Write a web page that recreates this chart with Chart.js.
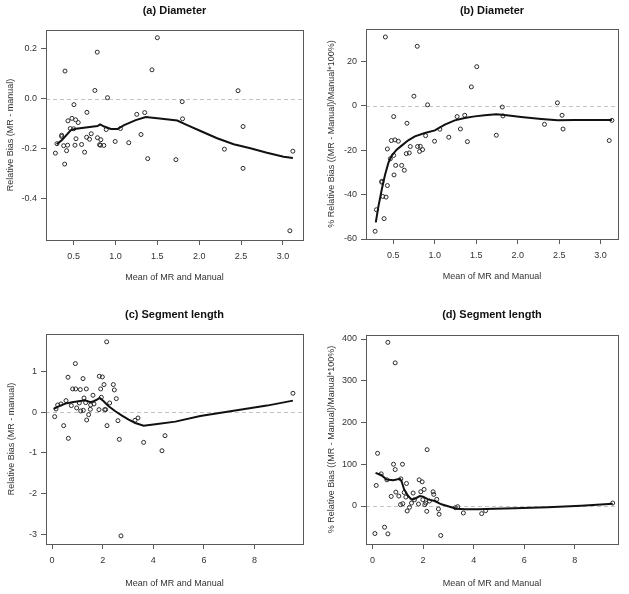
<!DOCTYPE html>
<html>
<head>
<meta charset="utf-8">
<script src="https://cdn.jsdelivr.net/npm/chart.js@4"></script>
<style>
  body { margin: 0; background: #fff; }
  #wrap { position: relative; width: 629px; height: 594px; }
  canvas { position: absolute; }
</style>
</head>
<body>
<div id="wrap">
  <canvas id="pa" width="314" height="297" style="left:0;top:0"></canvas>
  <canvas id="pb" width="314" height="297" style="left:315px;top:0"></canvas>
  <canvas id="pc" width="314" height="297" style="left:0;top:297px"></canvas>
  <canvas id="pd" width="314" height="297" style="left:315px;top:297px"></canvas>
</div>
<script>
// (a) Diameter, relative bias
var aX = [0.282, 0.301, 0.357, 0.357, 0.397, 0.381, 0.393, 0.416, 0.428, 0.432, 0.46, 0.48, 0.5, 0.504, 0.516, 0.524, 0.528, 0.555, 0.595, 0.631, 0.659, 0.655, 0.69, 0.71, 0.754, 0.782, 0.785, 0.809, 0.825, 0.821, 0.861, 0.889, 0.905, 0.996, 1.059, 1.159, 1.254, 1.305, 1.349, 1.385, 1.436, 1.5, 1.722, 1.797, 1.801, 2.301, 2.464, 2.524, 2.524, 3.083, 3.119];
var aY = [-0.219, -0.181, -0.147, -0.152, 0.111, -0.189, -0.263, -0.209, -0.187, -0.089, -0.12, -0.079, -0.121, -0.024, -0.187, -0.085, -0.161, -0.096, -0.184, -0.215, -0.055, -0.155, -0.163, -0.141, 0.033, 0.187, -0.157, -0.185, -0.165, -0.187, -0.188, -0.124, 0.004, -0.172, -0.12, -0.177, -0.063, -0.144, -0.056, -0.241, 0.116, 0.245, -0.245, -0.012, -0.081, -0.203, 0.032, -0.112, -0.28, -0.531, -0.211];
var aFitX = [0.298, 0.361, 0.468, 0.528, 0.647, 0.785, 0.817, 0.865, 0.944, 1.024, 1.103, 1.242, 1.361, 1.5, 1.738, 1.857, 2.016, 2.214, 2.412, 2.611, 2.809, 3.008, 3.119];
var aFitY = [-0.183, -0.166, -0.126, -0.121, -0.116, -0.11, -0.103, -0.112, -0.122, -0.122, -0.106, -0.086, -0.074, -0.079, -0.088, -0.106, -0.13, -0.159, -0.183, -0.199, -0.217, -0.233, -0.238];

// (b) Diameter, % relative bias
var bX = [0.28, 0.296, 0.404, 0.36, 0.36, 0.372, 0.388, 0.412, 0.428, 0.428, 0.464, 0.476, 0.504, 0.504, 0.508, 0.52, 0.528, 0.56, 0.6, 0.632, 0.656, 0.664, 0.692, 0.704, 0.748, 0.788, 0.792, 0.816, 0.825, 0.853, 0.889, 0.913, 0.997, 1.061, 1.169, 1.269, 1.309, 1.361, 1.393, 1.441, 1.506, 1.742, 1.814, 1.822, 2.323, 2.479, 2.535, 2.547, 3.104, 3.136];
var bY = [-56.5, -46.8, 31.1, -34.4, -34, -40.8, -50.8, -41.1, -35.9, -19.4, -23.8, -15.6, -4.8, -22.3, -31.1, -15.3, -26.8, -15.9, -26.8, -29, -21.5, -7.8, -21.2, -18.3, 4.4, 26.9, -18.3, -20.5, -18.2, -19.7, -13.4, 0.5, -15.9, -10.5, -14.1, -4.8, -10.4, -4.2, -16.1, 8.6, 17.7, -13.2, -0.5, -4.5, -8.3, 1.4, -4.2, -10.4, -15.6, -6.5];
var bFitX = [0.288, 0.32, 0.36, 0.4, 0.44, 0.48, 0.54, 0.6, 0.68, 0.76, 0.88, 1.0, 1.121, 1.241, 1.361, 1.482, 1.602, 1.742, 1.842, 2.042, 2.283, 2.483, 2.683, 3.136];
var bFitY = [-52.5, -45.3, -37.7, -31, -25.7, -22.4, -19.7, -17.9, -15.5, -13.7, -12.2, -11, -8.4, -6.5, -5.4, -4.7, -4.2, -3.8, -4.1, -5, -5.9, -6.5, -6.3, -6.3];

// (c) Segment length, relative bias
var cX = [0.105, 0.158, 0.224, 0.355, 0.461, 0.553, 0.632, 0.645, 0.763, 0.816, 0.921, 0.934, 0.974, 1.079, 1.118, 1.132, 1.224, 1.237, 1.263, 1.329, 1.355, 1.368, 1.447, 1.513, 1.526, 1.618, 1.658, 1.855, 1.868, 1.921, 1.947, 1.987, 2.053, 2.079, 2.118, 2.158, 2.171, 2.276, 2.421, 2.461, 2.539, 2.605, 2.658, 2.724, 3.276, 3.395, 3.618, 4.342, 4.461, 9.513];
var cY = [-0.107, 0.082, 0.181, 0.206, -0.329, 0.288, 0.864, -0.642, 0.165, 0.576, 1.2, 0.576, 0.107, 0.23, 0.56, 0.033, 0.831, 0.049, 0.354, 0.239, 0.576, -0.189, -0.058, 0.074, 0.181, 0.42, 0.206, 0.066, 0.889, 0.576, 0.37, 0.872, 0.683, 0.066, 0.066, 1.737, -0.329, 0.23, 0.683, 0.551, 0.337, -0.206, -0.667, -3.045, -0.198, -0.14, -0.741, -0.947, -0.576, 0.469];
var cFitX = [0.066, 0.263, 0.526, 0.789, 1.053, 1.316, 1.513, 1.645, 1.776, 1.882, 2.039, 2.237, 2.5, 2.763, 3.026, 3.289, 3.618, 4.079, 4.868, 5.855, 7.171, 8.487, 9.513];
var cFitY = [0.082, 0.148, 0.214, 0.247, 0.272, 0.296, 0.247, 0.272, 0.313, 0.354, 0.272, 0.148, 0.025, -0.082, -0.181, -0.263, -0.329, -0.296, -0.23, -0.091, 0.041, 0.165, 0.288];

// (d) Segment length, % relative bias
var dX = [0.092, 0.145, 0.197, 0.342, 0.474, 0.566, 0.605, 0.605, 0.737, 0.829, 0.895, 0.895, 0.921, 1.039, 1.118, 1.105, 1.184, 1.197, 1.25, 1.316, 1.342, 1.368, 1.461, 1.539, 1.605, 1.658, 1.816, 1.842, 1.908, 1.961, 1.987, 2.039, 2.066, 2.105, 2.145, 2.158, 2.25, 2.395, 2.421, 2.539, 2.605, 2.632, 2.697, 3.276, 3.368, 3.592, 4.316, 4.474, 9.5];
var dY = [-65.9, 49.2, 126.2, 77, -50.8, 62.7, 392, -66.7, 23, 100, 342.9, 87.3, 33.3, 23.8, 65, 3.2, 100, 5.6, 32.5, 21.4, 54, -11.9, -3.2, 7.1, 31, 15.1, 4.8, 62.7, 34.1, 57.9, 15.1, 39.7, 3.2, 7.1, -12.7, 134.9, 11.9, 34.1, 27.8, 15.9, -7.1, -19.8, -70.6, -4, -1.6, -16.7, -18.3, -11.1, 7.1];
var dFitX = [0.118, 0.355, 0.553, 0.816, 1.079, 1.145, 1.25, 1.408, 1.539, 1.671, 1.868, 2.0, 2.197, 2.461, 2.724, 3.053, 3.316, 3.645, 4.171, 4.829, 5.618, 6.934, 8.25, 9.5];
var dFitY = [79.4, 73.8, 63.5, 61.9, 65.1, 59.5, 39.7, 23.8, 15.9, 17.5, 23.8, 22.2, 15.9, 11.9, 4, -1.6, -6.3, -7.9, -7.9, -6.3, -5.6, -3.2, 0.8, 5.6];

// tick labels
var diamXTicks = [0.5, 1.0, 1.5, 2.0, 2.5, 3.0];
var segXTicks = [0, 2, 4, 6, 8];
var aYTicks = [-0.4, -0.2, 0.0, 0.2];
var bYTicks = [-60, -40, -20, 0, 20];
var cYTicks = [-3, -2, -1, 0, 1];
var dYTicks = [0, 100, 200, 300, 400];
var zeroRef = 0;

var xLabel = 'Mean of MR and Manual';
var relLabel = 'Relative Bias (MR - manual)';
var pctLabel = '% Relative Bias ((MR - Manual)/Manual*100%)';

Chart.defaults.font.family = '"Liberation Sans", Arial, sans-serif';
Chart.defaults.animation = false;

var frame = {
  id: 'frame',
  beforeDatasetsDraw: function(chart) {
    var a = chart.chartArea, ctx = chart.ctx;
    var y0 = Math.round(chart.scales.y.getPixelForValue(zeroRef)) + 0.5;
    ctx.save();
    ctx.strokeStyle = '#c4c4c4';
    ctx.lineWidth = 1;
    ctx.setLineDash([4, 3]);
    ctx.beginPath();
    ctx.moveTo(a.left, y0);
    ctx.lineTo(a.right, y0);
    ctx.stroke();
    ctx.restore();
  },
  afterDraw: function(chart) {
    var a = chart.chartArea, ctx = chart.ctx;
    ctx.save();
    ctx.strokeStyle = '#5a5a5a';
    ctx.lineWidth = 1;
    ctx.strokeRect(Math.round(a.left) + 0.5, Math.round(a.top) + 0.5,
      Math.round(a.right - a.left), Math.round(a.bottom - a.top));
    ctx.restore();
  }
};

function pts(xs, ys) {
  return xs.map(function(x, i) { return {x: x, y: ys[i]}; });
}

function panel(id, p) {
  new Chart(id, {
    type: 'scatter',
    data: {
      datasets: [{
        data: pts(p.fitX, p.fitY),
        showLine: true,
        borderColor: '#111',
        borderWidth: 2,
        pointRadius: 0,
        tension: 0
      }, {
        data: pts(p.x, p.y),
        pointRadius: 2,
        pointBorderWidth: 1,
        pointBorderColor: '#2a2a2a',
        pointBackgroundColor: 'rgba(0,0,0,0)'
      }]
    },
    options: {
      responsive: false,
      layout: { padding: { right: 11 }, autoPadding: false },
      plugins: {
        legend: { display: false },
        tooltip: { enabled: false },
        title: {
          display: true,
          text: p.title,
          fullSize: false,
          color: '#111',
          font: { size: 11, weight: 'bold' },
          padding: { top: p.titleTop, bottom: p.titleBottom }
        }
      },
      scales: {
        x: {
          type: 'linear',
          min: p.xMin, max: p.xMax,
          afterBuildTicks: function(s) { s.ticks = p.xTicks.map(function(v) { return {value: v}; }); },
          afterFit: function(s) { s.height = p.xHeight; },
          border: { display: false },
          grid: { drawOnChartArea: false, drawTicks: true, tickLength: 5, color: '#5a5a5a' },
          ticks: { color: '#333', font: { size: 9 }, padding: 6, maxRotation: 0, autoSkip: false,
                   callback: function(v) { return p.xFmt(v); } },
          title: { display: true, text: xLabel, color: '#333', font: { size: 9 },
                   padding: { top: 0, bottom: p.xTitlePad } }
        },
        y: {
          type: 'linear',
          min: p.yMin, max: p.yMax,
          afterBuildTicks: function(s) { s.ticks = p.yTicks.map(function(v) { return {value: v}; }); },
          afterFit: function(s) { s.width = p.yWidth; },
          border: { display: false },
          grid: { drawOnChartArea: false, drawTicks: true, tickLength: 5, color: '#5a5a5a' },
          ticks: { color: '#333', font: { size: 9 }, padding: 4, autoSkip: false,
                   callback: function(v) { return p.yFmt(v); } },
          title: { display: true, text: p.yLabel, color: '#333', font: { size: 9 },
                   padding: { top: p.yTitlePad, bottom: 0 } }
        }
      }
    },
    plugins: [frame]
  });
}

function one(v) { return v.toFixed(1); }
function whole(v) { return String(v); }

panel('pa', {
  title: '(a) Diameter', titleTop: 4.4, titleBottom: 12.4,
  x: aX, y: aY, fitX: aFitX, fitY: aFitY,
  xMin: 0.17, xMax: 3.24, yMin: -0.568, yMax: 0.276,
  xTicks: diamXTicks, yTicks: aYTicks, xFmt: one, yFmt: one,
  yLabel: relLabel, yWidth: 46, xHeight: 57, xTitlePad: 14, yTitlePad: 5.6
});

panel('pb', {
  title: '(b) Diameter', titleTop: 4.4, titleBottom: 11.4,
  x: bX, y: bY, fitX: bFitX, fitY: bFitY,
  xMin: 0.17, xMax: 3.21, yMin: -60, yMax: 34.7,
  xTicks: diamXTicks, yTicks: bYTicks, xFmt: one, yFmt: whole,
  yLabel: pctLabel, yWidth: 51, xHeight: 58, xTitlePad: 14.9, yTitlePad: 11.3
});

panel('pc', {
  title: '(c) Segment length', titleTop: 11.4, titleBottom: 12.4,
  x: cX, y: cY, fitX: cFitX, fitY: cFitY,
  xMin: -0.237, xMax: 9.91, yMin: -3.246, yMax: 1.93,
  xTicks: segXTicks, yTicks: cYTicks, xFmt: whole, yFmt: whole,
  yLabel: relLabel, yWidth: 46, xHeight: 50, xTitlePad: 5.3, yTitlePad: 6.3
});

panel('pd', {
  title: '(d) Segment length', titleTop: 11.4, titleBottom: 13.4,
  x: dX, y: dY, fitX: dFitX, fitY: dFitY,
  xMin: -0.26, xMax: 9.71, yMin: -91, yMax: 409.6,
  xTicks: segXTicks, yTicks: dYTicks, xFmt: whole, yFmt: whole,
  yLabel: pctLabel, yWidth: 51, xHeight: 50, xTitlePad: 4.6, yTitlePad: 11.3
});
</script>
</body>
</html>
